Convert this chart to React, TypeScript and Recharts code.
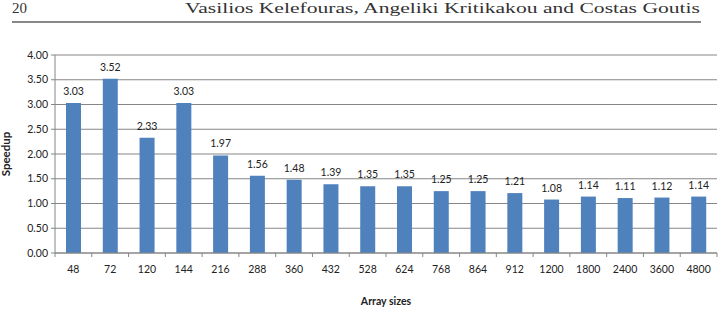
import React from 'react';
import { BarChart, Bar, XAxis, YAxis, CartesianGrid, LabelList } from 'recharts';

const categories = ['48', '72', '120', '144', '216', '288', '360', '432', '528', '624', '768', '864', '912', '1200', '1800', '2400', '3600', '4800'];
const speedup = [3.03, 3.52, 2.33, 3.03, 1.97, 1.56, 1.48, 1.39, 1.35, 1.35, 1.25, 1.25, 1.21, 1.08, 1.14, 1.11, 1.12, 1.14];
const yTicks = [0, 0.5, 1, 1.5, 2, 2.5, 3, 3.5, 4];
const pageNumber = '20';
const headerText = 'Vasilios Kelefouras, Angeliki Kritikakou and Costas Goutis';

const data = categories.map((c, i) => ({ size: c, speedup: speedup[i] }));

const FONT = 'Lato, "Open Sans", sans-serif';

const XTick = (props: any) => {
  const { x, y, payload, index, visibleTicksCount } = props;
  const half = payload && payload.offset ? payload.offset : 18.4;
  const isLast = index === visibleTicksCount - 1;
  return (
    <g>
      <line x1={x - half} x2={x - half} y1={y - 8} y2={y - 4} stroke="#868686" />
      {isLast ? <line x1={x + half} x2={x + half} y1={y - 8} y2={y - 4} stroke="#868686" /> : null}
      <text x={x} y={y + 12} textAnchor="middle" fontSize={10.5} fill="#222" fontFamily={FONT}>
        {payload.value}
      </text>
    </g>
  );
};

export default function App() {
  return (
    <div style={{ position: 'absolute', left: 0, top: 0, width: 719, height: 314, background: '#fff' }}>
      <svg width={719} height={40} style={{ position: 'absolute', left: 0, top: 0 }}>
        <text x={12} y={13} fontSize={15} fontFamily='"Liberation Serif", "DejaVu Serif", serif' fill="#333">{pageNumber}</text>
        <text x={700} y={13} fontSize={15} textAnchor="end" textLength={515} lengthAdjust="spacingAndGlyphs" fontFamily='"Liberation Serif", "DejaVu Serif", serif' fill="#333">{headerText}</text>
        <line x1={12} x2={701} y1={22} y2={22} stroke="#111" strokeWidth={1} />
      </svg>
      <div style={{ position: 'absolute', left: 0, top: 0 }}>
        <BarChart width={719} height={314} data={data} margin={{ top: 55, right: 2, bottom: 31, left: 10 }} barSize={15}>
          <CartesianGrid vertical={false} stroke="#868686" strokeWidth={1} />
          <XAxis
            dataKey="size"
            height={30}
            tickLine={false}
            axisLine={{ stroke: '#868686' }}
            tick={<XTick />}
            interval={0}
            label={{ value: 'Array sizes', position: 'insideBottom', offset: -22, fontSize: 10.5, fontWeight: 'bold', fill: '#222', fontFamily: FONT }}
          />
          <YAxis
            width={45}
            domain={[0, 4]}
            ticks={yTicks}
            interval={0}
            tickFormatter={(v: number) => v.toFixed(2)}
            tick={{ fontSize: 10.5, fill: '#222', fontFamily: FONT }}
            tickSize={4}
            tickMargin={3}
            axisLine={{ stroke: '#868686' }}
            tickLine={{ stroke: '#868686' }}
            label={{ value: 'Speedup', angle: -90, position: 'insideLeft', offset: -4, fontSize: 11.5, fontWeight: 'bold', fill: '#222', fontFamily: FONT, style: { textAnchor: 'middle' } }}
          />
          <Bar dataKey="speedup" fill="#4F81BD" isAnimationActive={false}>
            <LabelList dataKey="speedup" position="top" offset={8} formatter={(v: number) => v.toFixed(2)} fontSize={10.5} fill="#222" fontFamily={FONT} />
          </Bar>
        </BarChart>
      </div>
    </div>
  );
}
